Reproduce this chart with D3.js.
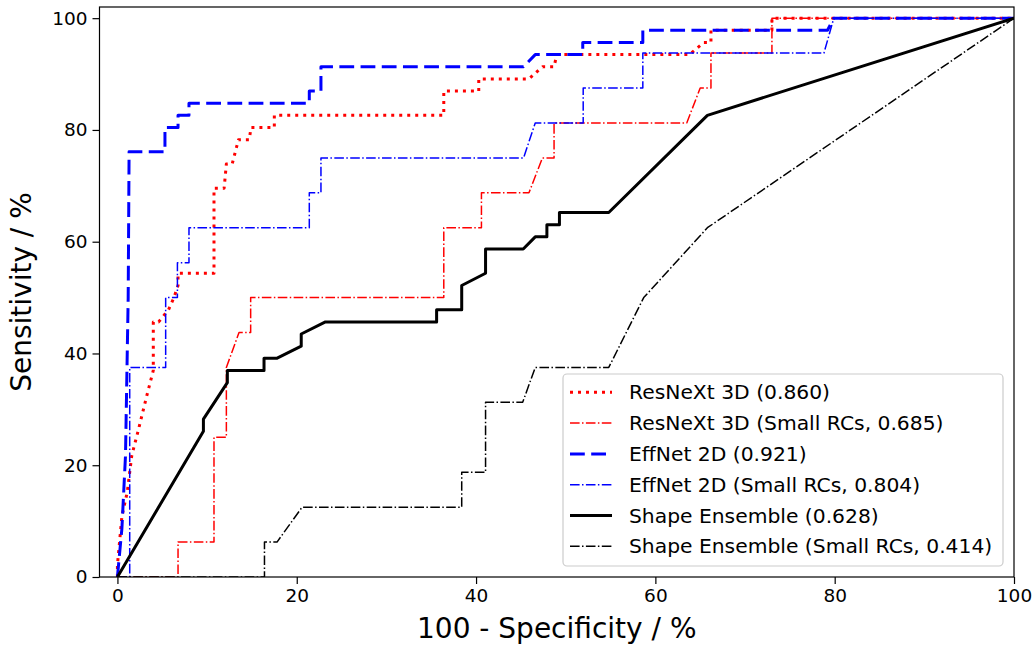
<!DOCTYPE html>
<html>
<head>
<meta charset="utf-8">
<script src="https://cdn.jsdelivr.net/npm/d3@7"></script>
<style>
  html, body { margin: 0; padding: 0; background: #fff; }
  svg { display: block; font-family: "DejaVu Sans", sans-serif; }
</style>
</head>
<body>
<svg id="chart" width="1035" height="646"></svg>
<script>
// ---- data (100 - specificity %, sensitivity %) ----
const resnext3d = [[0,0],[0,2.17],[0.5,10.87],[1.1,15.22],[1.6,21.74],[2.3,26.09],[3.3,32.61],[4.0,36.96],[4.0,45.65],[4.6,45.65],[5.7,47.83],[6.3,50.0],[6.76,52.17],[6.76,54.35],[10.77,54.35],[10.77,69.57],[11.9,69.57],[12.15,73.91],[12.8,73.91],[13.5,78.26],[14.7,78.26],[14.9,80.43],[17.5,80.43],[17.5,82.61],[36.4,82.61],[36.4,86.96],[40.3,86.96],[40.3,89.13],[45.9,89.13],[47.4,91.3],[48.7,91.3],[49.0,93.48],[63.8,93.48],[65.4,95.65],[66.2,95.65],[66.2,97.83],[73.0,97.83],[73.0,100],[100,100]];
const resnext3dSmall = [[0,0],[6.76,0],[6.76,6.25],[10.77,6.25],[10.77,25],[12.15,25],[12.15,37.5],[13.56,43.75],[14.86,43.75],[14.86,50],[36.4,50],[36.4,62.5],[40.6,62.5],[40.6,68.75],[45.9,68.75],[47.4,75],[48.7,75],[48.7,81.25],[63.5,81.25],[65.0,87.5],[66.2,87.5],[66.2,93.75],[73.0,93.75],[73.0,100],[100,100]];
const effnet2d = [[0,0],[0.5,8.7],[0.9,21.74],[1.2,50],[1.3,76.09],[5.3,76.09],[5.3,80.43],[6.76,80.43],[6.76,82.61],[7.98,82.61],[7.98,84.78],[21.4,84.78],[21.4,86.96],[22.7,86.96],[22.7,91.3],[45.3,91.3],[46.6,93.48],[51.9,93.48],[51.9,95.65],[58.6,95.65],[58.6,97.83],[79.2,97.83],[79.9,100],[100,100]];
const effnet2dSmall = [[0,0],[1.37,0],[1.37,37.5],[5.38,37.5],[5.38,50],[6.69,50],[6.69,56.25],[7.98,56.25],[7.98,62.5],[21.4,62.5],[21.4,68.75],[22.7,68.75],[22.7,75],[45.3,75],[46.6,81.25],[51.95,81.25],[51.95,87.5],[58.6,87.5],[58.6,93.75],[78.8,93.75],[79.9,100],[100,100]];
const shapeEnsemble = [[0,0],[9.59,26.09],[9.59,28.26],[12.26,34.78],[12.26,36.96],[16.35,36.96],[16.35,39.13],[17.76,39.13],[20.5,41.3],[20.5,43.48],[23.2,45.65],[35.6,45.65],[35.6,47.83],[38.4,47.83],[38.4,52.17],[41.06,54.35],[41.06,58.7],[45.26,58.7],[46.6,60.87],[47.9,60.87],[47.9,63.04],[49.3,63.04],[49.3,65.22],[54.8,65.22],[65.8,82.61],[100,100]];
const shapeEnsembleSmall = [[0,0],[16.4,0],[16.4,6.25],[17.8,6.25],[20.6,12.5],[38.4,12.5],[38.4,18.75],[41.06,18.75],[41.06,31.25],[45.2,31.25],[46.6,37.5],[54.8,37.5],[58.7,50],[65.8,62.5],[100,100]];

const seriesLabels = ["ResNeXt 3D (0.860)","ResNeXt 3D (Small RCs, 0.685)","EffNet 2D (0.921)","EffNet 2D (Small RCs, 0.804)","Shape Ensemble (0.628)","Shape Ensemble (Small RCs, 0.414)"];
const xTicks = [0,20,40,60,80,100];
const yTicks = [0,20,40,60,80,100];
const xLabel = "100 - Specificity / %";
const yLabel = "Sensitivity / %";

// ---- styles ----
const styles = [
  {color:"#ff0000", width:3, dash:"3,5"},
  {color:"#ff0000", width:1.5, dash:"9.6,2.4,1.5,2.4"},
  {color:"#0000ff", width:3, dash:"14.8,6.4"},
  {color:"#0000ff", width:1.5, dash:"9.6,2.4,1.5,2.4"},
  {color:"#000000", width:3, dash:null},
  {color:"#000000", width:1.5, dash:"9.6,2.4,1.5,2.4"}
];
const seriesData = [resnext3d, resnext3dSmall, effnet2d, effnet2dSmall, shapeEnsemble, shapeEnsembleSmall];

const svg = d3.select("#chart");
const L = 99.5, R = 1014, T = 7, B = 577;
const x = d3.scaleLinear().domain([-2,100]).range([L,R]);
const y = d3.scaleLinear().domain([0,102]).range([B,T]);

svg.append("defs").append("clipPath").attr("id","clip")
  .append("rect").attr("x",L).attr("y",T).attr("width",R-L).attr("height",B-T);

const line = d3.line().x(d=>x(d[0])).y(d=>y(d[1]));
const plot = svg.append("g").attr("clip-path","url(#clip)");
seriesData.forEach((data,i)=>{
  const s = styles[i];
  plot.append("path").datum(data).attr("d",line)
    .attr("fill","none").attr("stroke",s.color).attr("stroke-width",s.width)
    .attr("stroke-dasharray",s.dash).attr("stroke-linejoin","round");
});

// axes
const xAxis = d3.axisBottom(x).tickValues(xTicks).tickSize(7).tickPadding(5);
const yAxis = d3.axisLeft(y).tickValues(yTicks).tickSize(7).tickPadding(5);
const gx = svg.append("g").attr("transform",`translate(0,${B})`).call(xAxis);
const gy = svg.append("g").attr("transform",`translate(${L},0)`).call(yAxis);
[gx,gy].forEach(g=>{
  g.select(".domain").remove();
  g.selectAll(".tick line").attr("stroke","#000").attr("stroke-width",1.2);
  g.selectAll(".tick text").attr("fill","#000").attr("font-size",18.5).attr("font-family","DejaVu Sans");
});
svg.append("rect").attr("x",L).attr("y",T).attr("width",R-L).attr("height",B-T)
  .attr("fill","none").attr("stroke","#000").attr("stroke-width",1.2);

svg.append("text").attr("x",(L+R)/2).attr("y",638).attr("text-anchor","middle")
  .attr("font-size",28).attr("fill","#000").text(xLabel);
svg.append("text").attr("transform",`translate(31,${(T+B)/2}) rotate(-90)`).attr("text-anchor","middle")
  .attr("font-size",28).attr("fill","#000").text(yLabel);

// legend
const lg = svg.append("g");
lg.append("rect").attr("x",563).attr("y",374).attr("width",440).attr("height",192)
  .attr("rx",4).attr("fill","#fff").attr("fill-opacity",0.8).attr("stroke","#cccccc").attr("stroke-width",1.2);
seriesLabels.forEach((lab,i)=>{
  const cy = 392.3 + i*30.8;
  const s = styles[i];
  lg.append("line").attr("x1",570).attr("x2",612).attr("y1",cy).attr("y2",cy)
    .attr("stroke",s.color).attr("stroke-width",s.width).attr("stroke-dasharray",s.dash);
  lg.append("text").attr("x",629).attr("y",cy+7).attr("font-size",20.3).attr("fill","#000").text(lab);
});
</script>
</body>
</html>
